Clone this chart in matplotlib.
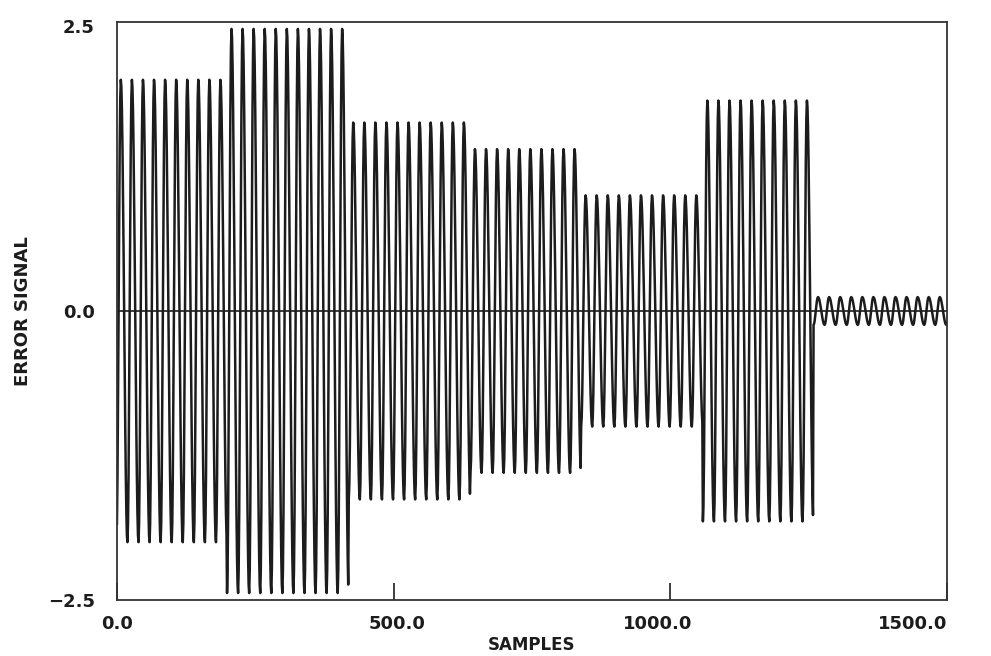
import numpy as np
import matplotlib
matplotlib.use("Agg")
import matplotlib.pyplot as plt
from matplotlib.transforms import ScaledTranslation

# Signal: a periodic carrier (~20 samples per cycle)
# whose amplitude steps between blocks of cycles.
N_SAMPLES = 1500
PERIOD = 20
FIRST_TROUGH = -1
segment_cycles = [10, 11, 11, 10, 11, 10, 13]
segment_amplitudes = [2.0, 2.44, 1.63, 1.40, 1.0, 1.82, 0.12]
# one cycle, normalised, starting at the trough
cycle_shape = [-1.00, -0.92, -0.71, -0.38, 0.00, 0.38, 0.71, 0.92, 1.00, 0.97,
               0.87, 0.71, 0.50, 0.26, 0.00, -0.26, -0.50, -0.71, -0.87, -0.97]

x_ticks = [0, 500, 1000, 1500]
x_ticklabels = ["0.0", "500.0", "1000.0", "1500.0"]
y_ticks = [-2.5, 0.0, 2.5]
y_ticklabels = ["\u22122.5", "0.0", "2.5"]

cycle_amp = np.repeat(segment_amplitudes, segment_cycles)
n = np.arange(N_SAMPLES + 1)
k = np.clip((n - FIRST_TROUGH) // PERIOD, 0, len(cycle_amp) - 1)
phase = (n - FIRST_TROUGH) % PERIOD
signal = cycle_amp[k] * np.asarray(cycle_shape)[phase]

plt.rcParams["font.family"] = ["DejaVu Sans"]
plt.rcParams["font.weight"] = "bold"

fig = plt.figure(figsize=(9.91, 6.56), dpi=100)
ax = fig.add_axes([0.118, 0.0854, 0.8375, 0.8811])

ink = "#1c1c1c"
ax.plot(n, signal, color=ink, lw=1.8)
ax.axhline(0, color=ink, lw=1.2)

ax.set_xlim(0, 1500)
ax.set_ylim(-2.5, 2.5)
ax.set_xticks(x_ticks, x_ticklabels, fontsize=13, fontweight="bold")
ax.set_yticks(y_ticks, y_ticklabels, fontsize=13, fontweight="bold")
ax.tick_params(axis="x", direction="in", length=12, width=1.2, pad=11, colors=ink)
ax.tick_params(axis="y", length=0, pad=16, colors=ink)

# the old plotter nudged some labels off their ticks
xl = ax.get_xticklabels()
xl[1].set_transform(xl[1].get_transform()
                    + ScaledTranslation(0.03, 0, fig.dpi_scale_trans))
xl[2].set_transform(xl[2].get_transform()
                    + ScaledTranslation(-0.13, 0, fig.dpi_scale_trans))
xl[3].set_horizontalalignment("right")
yl = ax.get_yticklabels()
yl[2].set_transform(yl[2].get_transform()
                    + ScaledTranslation(0, -0.04, fig.dpi_scale_trans))

for s in ax.spines.values():
    s.set_linewidth(1.3)
    s.set_color("#333333")

ax.set_xlabel("SAMPLES", fontsize=12, fontweight="bold", labelpad=2, color=ink)
ax.set_ylabel("ERROR SIGNAL", fontsize=13, fontweight="bold", labelpad=11, color=ink)

fig.savefig("out.png", dpi=100)
